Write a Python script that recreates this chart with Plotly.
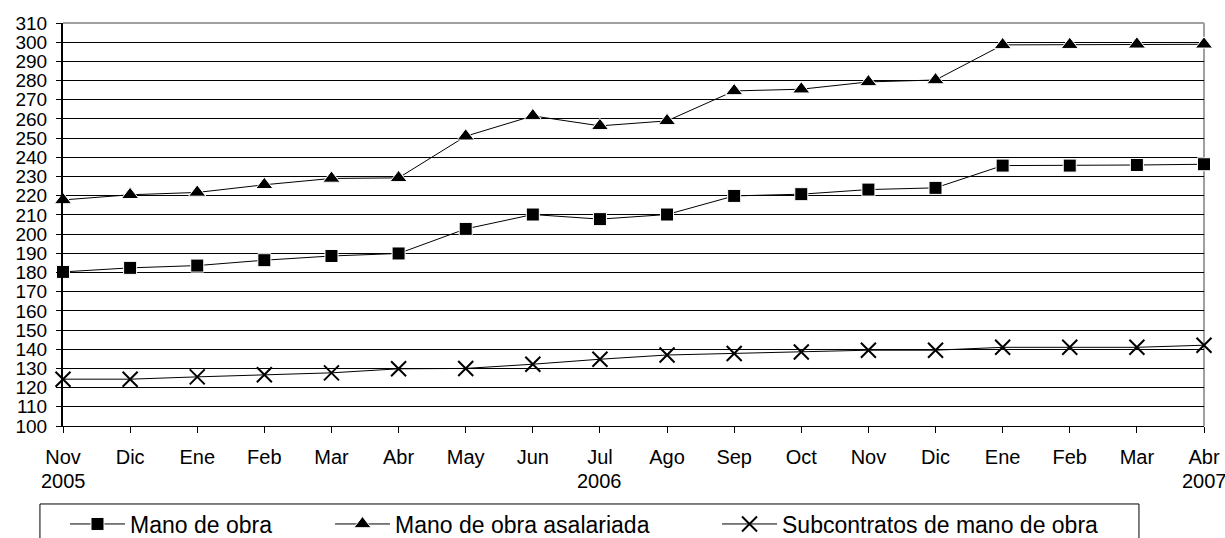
import plotly.graph_objects as go

months = ["Nov", "Dic", "Ene", "Feb", "Mar", "Abr", "May", "Jun", "Jul",
          "Ago", "Sep", "Oct", "Nov", "Dic", "Ene", "Feb", "Mar", "Abr"]
year_pos = [0, 8, 17]
year_text = ["2005", "2006", "2007"]
mano_obra = [180.3, 182.4, 183.6, 186.4, 188.6, 189.9, 202.7, 210.2, 207.8, 210.2,
             219.9, 220.8, 223.2, 224.1, 235.7, 235.7, 236.0, 236.4]
asalariada = [217.8, 220.5, 221.7, 225.7, 229.0, 229.3, 251.0, 261.6, 256.4, 259.0,
              274.6, 275.5, 279.3, 280.3, 298.6, 298.7, 298.9, 298.9]
subcontratos = [124.4, 124.4, 125.6, 126.7, 127.7, 129.8, 130.0, 132.2, 134.8, 137.0,
                137.8, 138.6, 139.5, 139.5, 141.0, 141.0, 141.0, 142.1]
y_ticks = list(range(100, 311, 10))

x = list(range(len(months)))
font = "Liberation Sans, Arial, sans-serif"

fig = go.Figure()
fig.add_trace(go.Scatter(
    x=x, y=mano_obra, name="Mano de obra", mode="lines+markers", legend="legend",
    line=dict(color="black", width=1),
    marker=dict(symbol="square", size=13, color="black", line=dict(color="white", width=1)),
    cliponaxis=False))
fig.add_trace(go.Scatter(
    x=x, y=asalariada, name="Mano de obra asalariada", mode="lines+markers", legend="legend2",
    line=dict(color="black", width=1),
    marker=dict(symbol="triangle-up", size=15, color="black", line=dict(color="white", width=1)),
    cliponaxis=False))
fig.add_trace(go.Scatter(
    x=x, y=subcontratos, name="Subcontratos de mano de obra", mode="lines+markers", legend="legend3",
    line=dict(color="black", width=1),
    marker=dict(symbol="x-thin", size=15, color="black", line=dict(color="black", width=2)),
    cliponaxis=False))

# plot-area border (top and right, grey)
fig.add_shape(type="line", xref="paper", yref="paper", x0=0, x1=1, y0=1, y1=1,
              line=dict(color="#a0a0a0", width=2), layer="below")
fig.add_shape(type="line", xref="paper", yref="paper", x0=1, x1=1, y0=0, y1=1,
              line=dict(color="#a0a0a0", width=2), layer="below")
# legend frame
fig.add_shape(type="rect", xref="paper", yref="paper", x0=-0.0202, x1=0.9430, y0=-0.1935, y1=-0.40,
              line=dict(color="black", width=1), fillcolor="rgba(0,0,0,0)")

for xp, t in zip(year_pos, year_text):
    fig.add_annotation(x=xp, xref="x", y=-0.136, yref="paper", text=t, showarrow=False,
                       xanchor="center", yanchor="middle", font=dict(size=20, family=font))

leg_common = dict(orientation="h", yanchor="middle", y=-0.2432, xanchor="left",
                  bgcolor="rgba(0,0,0,0)", borderwidth=0, font=dict(size=23, family=font),
                  itemwidth=55)
fig.update_layout(
    width=1225, height=538,
    margin=dict(l=63, r=21, t=23, b=112, autoexpand=False),
    paper_bgcolor="white", plot_bgcolor="white",
    font=dict(family=font, size=19, color="black"),
    showlegend=True,
    legend=dict(x=0.00175, **leg_common),
    legend2=dict(x=0.234, **leg_common),
    legend3=dict(x=0.5732, **leg_common),
    xaxis=dict(range=[0, len(months) - 1], tickvals=x, ticktext=months,
               showgrid=False, zeroline=False, showline=True, linecolor="black", linewidth=1,
               ticks="outside", ticklen=6, tickcolor="black", tickfont=dict(size=20),
               ticklabelstandoff=7),
    yaxis=dict(range=[100, 310], tickvals=y_ticks, showgrid=True, gridcolor="black", gridwidth=1,
               zeroline=False, showline=True, linecolor="black", linewidth=2,
               ticks="outside", ticklen=5, tickcolor="black", tickfont=dict(size=19),
               ticklabelstandoff=5),
)

fig.write_html(
    "out.html",
    config={"displayModeBar": False},
    post_script="document.documentElement.style.overflow='hidden';"
                "document.body.style.margin='0';document.body.style.overflow='hidden';",
)
